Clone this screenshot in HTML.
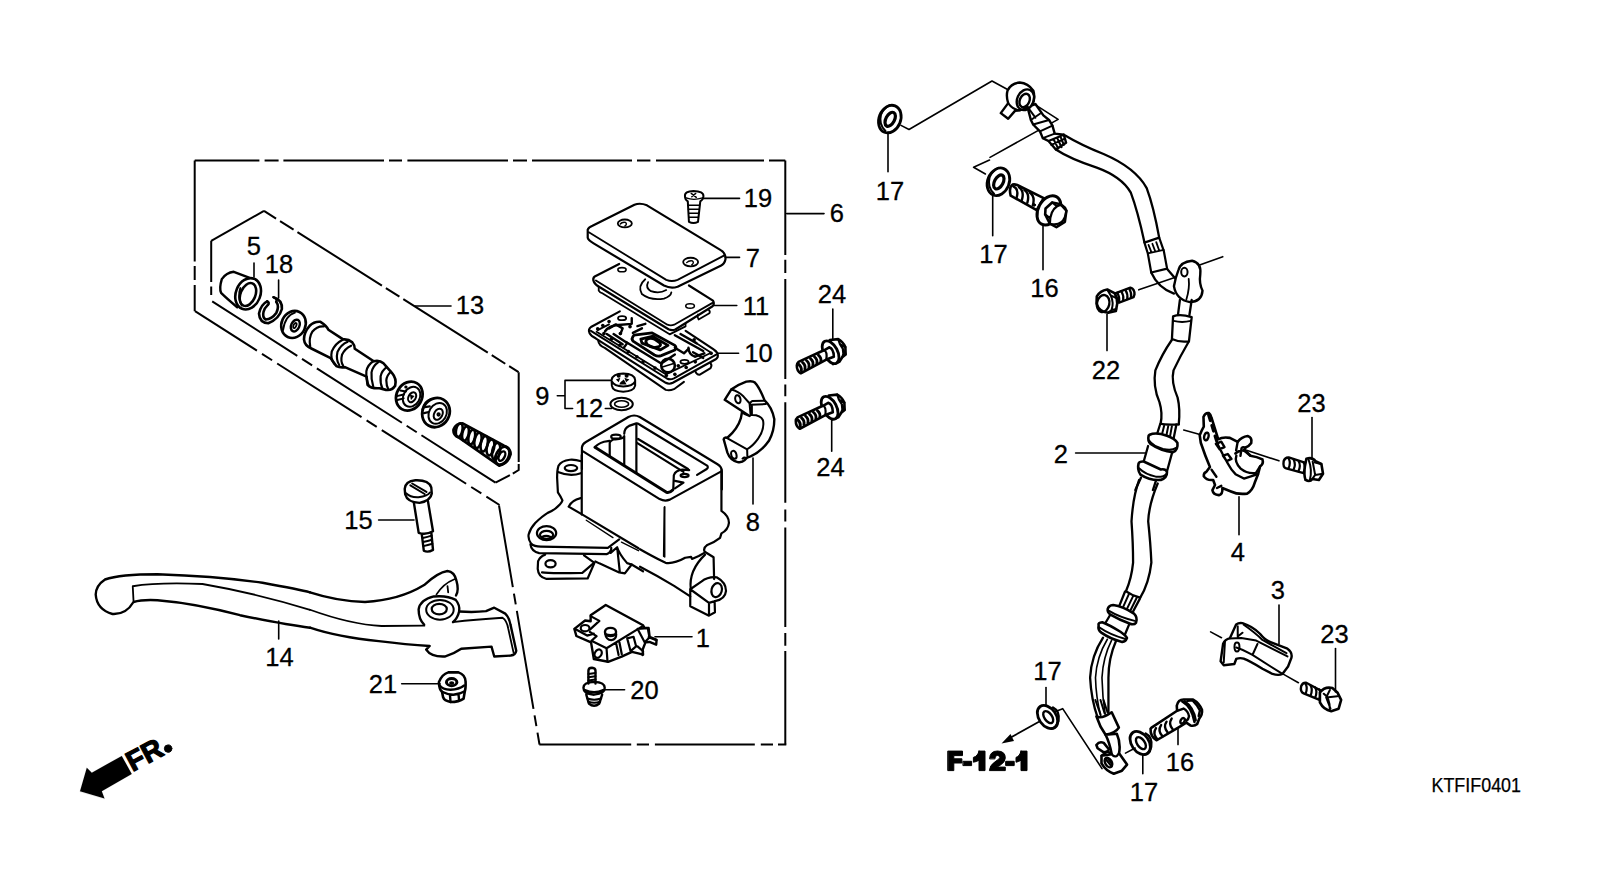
<!DOCTYPE html>
<html><head><meta charset="utf-8">
<style>
html,body{margin:0;padding:0;background:#fff;}
svg{display:block;}
text{font-family:"Liberation Sans",sans-serif;fill:#000;}
</style></head><body>
<svg width="1600" height="881" viewBox="0 0 1600 881">
<rect width="1600" height="881" fill="#fff"/>
<g id="boxes" stroke="#000" stroke-width="2" fill="none" stroke-dasharray="100 5 14 5" stroke-linecap="butt">
<path d="M194.7 160.4H259.4M264.6 160.4H278.6M283.4 160.4H384M389 160.4H402M407.4 160.4H508M513 160.4H527M532 160.4H632M637 160.4H650.4M656 160.4H764M769 160.4H785.3" stroke-dasharray="none"/>
<path d="M785.3 160.4V255M785.3 259.7V273M785.3 279V379M785.3 384.5V396.3M785.3 402.3V502.8M785.3 509.6V521.5M785.3 527.6V627M785.3 633V645.8M785.3 651V744.5" stroke-dasharray="none"/>
<path d="M539.3 744.5H631.2M636.8 744.5H649M654.9 744.5H754.8M760.8 744.5H773M778 744.5H786.3" stroke-dasharray="none"/>
<path d="M499 505.5L539.5 744.5" stroke-dasharray="99.5 6.5 11 6.5" stroke-dashoffset="16.7"/>
<path d="M195 311.2L499.5 505" stroke-dasharray="100 6 12 6" stroke-dashoffset="26.6"/>
<path d="M194.7 160.4V261.4M194.7 266V280M194.7 285V311.2" stroke-dasharray="none"/>
</g>
<g id="box13" stroke="#000" stroke-width="2" fill="none" stroke-dasharray="100 5 14 5">
<path d="M211.2 240.8L264 210.9" stroke-dasharray="none"/>
<path d="M264 210.9L518.6 372.2" stroke-dasharray="100 4.7 16 4.6" stroke-dashoffset="85.7"/>
<path d="M518.7 372.2V462M518.7 464V470L512.8 473.7M509.9 475.2L495.5 482.6" stroke-dasharray="none"/>
<path d="M212.2 301.4L495.5 482.6" stroke-dasharray="101 5.6 12 5.6" stroke-dashoffset="0"/>
<path d="M211.2 240.8V282M211.2 286.5V295" stroke-dasharray="none"/>
</g>
<g id="body" fill="none" stroke="#000" stroke-linejoin="round" stroke-linecap="round">
<!-- reservoir Z8.8 -->
<g transform="translate(570,410) scale(0.113475)" stroke-width="2.2" >
<path vector-effect="non-scaling-stroke" d="M105,520 L105,330 Q108,300 140,282 L515,62 Q565,35 615,62 L1300,478 Q1338,500 1338,540 L1338,700"/>
<path vector-effect="non-scaling-stroke" d="M115,365 L790,785 Q835,808 880,790 L1325,545"/>
<path vector-effect="non-scaling-stroke" stroke-width="3" d="M220,328 L850,725 Q880,732 905,705"/>
<path vector-effect="non-scaling-stroke" d="M220,328 Q240,300 300,280 L348,272"/>
<path vector-effect="non-scaling-stroke" d="M350,410 L350,290 Q360,262 400,258 Q470,255 478,230 L478,490"/>
<ellipse vector-effect="non-scaling-stroke" cx="405" cy="235" rx="42" ry="18"/>
<path vector-effect="non-scaling-stroke" d="M478,210 Q478,160 520,140 L585,118 Q600,115 612,128 L1208,490 Q1222,505 1205,520 L1120,572"/>
<path vector-effect="non-scaling-stroke" d="M585,125 L585,550"/>
<path vector-effect="non-scaling-stroke" d="M600,255 L1040,520 M590,290 L1000,545"/>
<path vector-effect="non-scaling-stroke" d="M910,700 L915,575 Q930,530 990,525 L1050,530"/>
<ellipse vector-effect="non-scaling-stroke" cx="1010" cy="577" rx="35" ry="14"/>
<path vector-effect="non-scaling-stroke" d="M925,625 L1000,640 L925,690"/>
</g>
<!-- body left Z2 -->
<g transform="translate(525,455) scale(0.113475)" stroke-width="2.2">
<path vector-effect="non-scaling-stroke" d="M495,55 Q440,38 395,42 Q320,50 295,95 Q283,130 283,200 L290,330 Q320,375 330,400 Q320,430 270,470 Q230,500 200,510 Q150,540 90,600 Q45,650 32,700 Q25,745 55,783"/>
<ellipse vector-effect="non-scaling-stroke" cx="405" cy="115" rx="55" ry="27"/>
<path vector-effect="non-scaling-stroke" d="M290,150 Q400,195 492,160"/>
<path vector-effect="non-scaling-stroke" d="M500,0 L500,525"/>
<path vector-effect="non-scaling-stroke" d="M385,455 Q410,400 490,380 M385,455 L510,528 L1000,822"/>
<path vector-effect="non-scaling-stroke" stroke-width="1.4" d="M540,575 L775,728 M850,768 L1000,843"/>
<path vector-effect="non-scaling-stroke" d="M1228,460 L1222,893" stroke-width="1.6"/>
<!-- flange (Z3 +573) -->
<g transform="translate(0,573)">
<path vector-effect="non-scaling-stroke" d="M55,210 Q80,232 140,234 L730,245 L830,170"/>
<path vector-effect="non-scaling-stroke" d="M48,215 Q55,275 125,292 L720,300 Q745,295 760,262 L760,245"/>
<ellipse vector-effect="non-scaling-stroke" cx="190" cy="115" rx="85" ry="62"/>
<ellipse vector-effect="non-scaling-stroke" cx="190" cy="130" rx="58" ry="35"/>
<path vector-effect="non-scaling-stroke" d="M150,150 Q185,130 225,150"/>
<path vector-effect="non-scaling-stroke" d="M755,290 L812,240 L835,455 M812,240 Q830,300 900,380 L940,392 L880,470 L830,462 L655,382 L620,365"/>
<path vector-effect="non-scaling-stroke" d="M520,312 L612,378 L552,515 L185,518 Q118,500 112,430 L115,365 Q130,322 178,305"/>
<path vector-effect="non-scaling-stroke" d="M150,462 Q200,472 505,466 L600,385"/>
<ellipse vector-effect="non-scaling-stroke" cx="225" cy="385" rx="45" ry="32"/>
<path vector-effect="non-scaling-stroke" d="M940,392 L1040,452"/>
</g>
</g>
<!-- pivot right Z5.87 -->
<g transform="translate(640,470) scale(0.17036)" stroke-width="2.2">
<path vector-effect="non-scaling-stroke" d="M478,0 L478,240 Q522,270 522,310 Q518,350 478,372 L470,398 Q440,422 395,440 Q368,460 380,480 L432,512 L435,640"/>
<path vector-effect="non-scaling-stroke" d="M0,465 Q60,500 150,545 Q200,552 265,515 L300,510 L305,522 L345,505 L380,485"/>
<path vector-effect="non-scaling-stroke" stroke-width="1.5" d="M145,215 L145,510"/>
<path vector-effect="non-scaling-stroke" d="M298,700 Q285,590 382,497"/>
<path vector-effect="non-scaling-stroke" d="M295,700 L295,800 L405,855 L440,835 L438,770 M295,700 L360,655 Q400,625 450,630 Q505,660 505,710 Q500,760 440,770 L405,780 L295,700 M405,780 L405,855"/>
<ellipse vector-effect="non-scaling-stroke" cx="450" cy="705" rx="30" ry="42" transform="rotate(15 450 705)"/>
<path vector-effect="non-scaling-stroke" d="M0,568 Q100,620 200,680 L295,742"/>
</g>
</g>
<g id="covers" fill="none" stroke="#000" stroke-linejoin="round" stroke-linecap="round">
<!-- cover 7 + screw 19 -->
<g transform="translate(580,190) scale(0.113475)">
<path vector-effect="non-scaling-stroke" stroke-width="2.2" d="M68,420 L68,350 Q75,330 110,315 L480,130 Q530,110 590,135 L1240,530 Q1285,555 1282,610 Q1275,650 1240,668 L860,852 Q800,872 740,842 L120,470 Q72,440 68,420"/>
<path vector-effect="non-scaling-stroke" stroke-width="1.8" d="M78,372 L760,792 Q810,812 860,792 L1268,578"/>
<ellipse vector-effect="non-scaling-stroke" stroke-width="1.8" cx="395" cy="295" rx="62" ry="35"/>
<path vector-effect="non-scaling-stroke" stroke-width="1.4" d="M355,300 Q370,280 400,285 Q420,300 395,318"/>
<ellipse vector-effect="non-scaling-stroke" stroke-width="1.8" cx="975" cy="635" rx="66" ry="38"/>
<path vector-effect="non-scaling-stroke" stroke-width="1.4" d="M940,640 Q960,620 990,625 Q1010,640 985,660"/>
<!-- screw 19 -->
<path vector-effect="non-scaling-stroke" stroke-width="2" d="M925,55 Q920,10 1000,8 Q1090,10 1088,55 Q1085,85 1060,100 L1040,280 Q1000,300 960,280 L950,100 Q925,85 925,55 Z"/>
<path vector-effect="non-scaling-stroke" stroke-width="1.4" d="M935,70 Q1000,95 1080,70 M980,30 L1025,65 M1020,30 L985,60 M955,135 L1050,135 M955,170 L1048,170 M958,205 L1045,205 M960,240 L1042,240"/>
</g>
<!-- plate 11 -->
<g transform="translate(580,260) scale(0.113475)">
<path vector-effect="non-scaling-stroke" stroke-width="2.2" d="M345,35 L130,145 Q108,162 122,192 Q135,220 175,240 L780,610 Q810,625 840,612 L1165,410 Q1190,390 1172,358 L960,225"/>
<path vector-effect="non-scaling-stroke" stroke-width="1.8" d="M140,180 L770,570 Q800,582 830,570 L1168,378"/>
<path vector-effect="non-scaling-stroke" stroke-width="1.8" d="M165,235 L165,270 Q175,290 200,295 L790,655 L930,585 L930,565 M1040,480 Q1030,505 1045,525 L1140,470 Q1150,450 1135,440"/>
<ellipse vector-effect="non-scaling-stroke" stroke-width="1.6" cx="370" cy="85" rx="36" ry="18"/>
<ellipse vector-effect="non-scaling-stroke" stroke-width="1.6" cx="970" cy="405" rx="38" ry="20"/>
<path vector-effect="non-scaling-stroke" stroke-width="1.8" d="M575,170 Q505,230 545,300 Q620,360 740,340 Q800,320 805,285 M600,195 Q575,245 625,275 Q700,300 760,265"/>
</g>
<!-- diaphragm 10 -->
<g transform="translate(575,300) scale(0.113475)">
<path vector-effect="non-scaling-stroke" stroke-width="2.2" d="M395,100 L145,235 Q112,258 128,292 Q140,318 185,340 L800,730 Q830,746 862,730 L1240,522 Q1268,505 1255,470 Q1245,450 1225,438 L975,272"/>
<path vector-effect="non-scaling-stroke" stroke-width="2" d="M140,272 L810,692 Q840,706 872,690 L1248,480"/>
<path vector-effect="non-scaling-stroke" stroke-width="2" d="M205,360 Q210,400 262,422 L800,792 Q832,802 872,786 L960,722 M1060,625 Q1070,660 1100,658 L1195,600 Q1210,575 1195,560"/>
<path vector-effect="non-scaling-stroke" stroke-width="1.8" d="M200,265 L300,215 M190,280 L800,655 L1200,465 L1060,375"/>
<path vector-effect="non-scaling-stroke" stroke-width="2.8" d="M520,310 L680,290 L880,400 Q900,420 880,440 L760,490 Q730,500 700,485 L515,365 Q490,340 520,310 Z M580,345 L680,320 L820,400 L750,440 L590,380 Z"/>
<path vector-effect="non-scaling-stroke" stroke-width="2.8" d="M630,350 Q660,330 700,345 L750,380 Q760,400 740,410 L700,420 Q670,420 640,395 Q615,370 630,350 Z"/>
<path vector-effect="non-scaling-stroke" stroke-width="2.4" d="M265,275 Q300,225 380,220 L500,210 L500,160 M280,300 L420,390 M450,370 L760,560 M510,290 L590,250 M550,230 L620,210 M880,310 L1130,450 M930,300 L1070,380 M1000,420 Q1000,480 1060,500 L1140,470"/>
<circle vector-effect="non-scaling-stroke" stroke-width="2.6" cx="820" cy="578" r="60"/>
<path vector-effect="non-scaling-stroke" stroke-width="2.4" d="M340,300 L460,380 L430,420 M300,250 L360,215 L420,250 L400,300 M880,420 L960,470 L1000,430 M760,560 L880,480 M1040,460 L1130,510"/>
<path vector-effect="non-scaling-stroke" stroke-width="1.5" d="M770,590 L870,560"/>
<ellipse vector-effect="non-scaling-stroke" stroke-width="1.8" cx="415" cy="160" rx="36" ry="18"/>
<ellipse vector-effect="non-scaling-stroke" stroke-width="1.8" cx="965" cy="545" rx="36" ry="18"/>
<g fill="#000" stroke="none">
<circle cx="200" cy="255" r="16"/><circle cx="245" cy="225" r="16"/><circle cx="300" cy="190" r="16"/><circle cx="255" cy="295" r="16"/><circle cx="320" cy="345" r="16"/><circle cx="395" cy="400" r="16"/><circle cx="470" cy="455" r="16"/><circle cx="545" cy="500" r="16"/><circle cx="600" cy="545" r="16"/><circle cx="705" cy="600" r="16"/><circle cx="805" cy="665" r="16"/><circle cx="880" cy="655" r="16"/><circle cx="980" cy="595" r="16"/><circle cx="1060" cy="545" r="16"/><circle cx="1200" cy="470" r="16"/><circle cx="1050" cy="350" r="16"/><circle cx="400" cy="295" r="16"/><circle cx="485" cy="235" r="16"/><circle cx="910" cy="580" r="16"/>
</g>
<!-- part 9 -->
<path vector-effect="non-scaling-stroke" stroke-width="2" d="M322,705 Q330,650 425,648 Q525,650 530,705 L530,755 Q520,805 425,808 Q330,805 325,755 Z M325,718 Q345,760 425,762 Q510,760 530,718"/>
<g fill="#000" stroke="none"><path d="M360,700 L400,685 L385,725Z M435,685 L480,700 L450,725Z M400,725 L430,700 L455,745 L390,745Z"/><circle cx="385" cy="668" r="18"/><circle cx="455" cy="668" r="18"/></g>
</g>
<!-- part 12 o-ring -->
<ellipse cx="621.6" cy="404" rx="11.2" ry="6.3" stroke-width="2"/>
<ellipse cx="621.6" cy="404" rx="7" ry="3.3" stroke-width="1.6"/>
</g>
<g id="holder8" fill="none" stroke="#000" stroke-linejoin="round" stroke-linecap="round">
<g transform="translate(715,375) scale(0.10786)">
<path vector-effect="non-scaling-stroke" stroke-width="2.4" d="M90,230 L150,135 Q210,90 290,62 Q345,50 370,70 Q410,110 460,235 Q530,300 550,410 Q550,520 500,610 Q430,710 330,755 Q290,765 275,790 Q250,815 210,808 Q140,790 115,720 L80,595 Q85,575 115,582 Q210,500 240,400 L250,345 Q280,365 320,380 L90,230 Z"/>
<path vector-effect="non-scaling-stroke" stroke-width="2" d="M150,135 Q215,150 265,200 L320,262 L330,372 M320,262 L345,240 L460,238 M330,275 L470,270 M342,280 L342,362 M335,372 Q420,368 445,420 Q462,500 400,590 Q350,660 295,690 M112,585 L298,690 L300,752 M255,775 Q270,760 290,770"/>
<ellipse vector-effect="non-scaling-stroke" stroke-width="2" cx="212" cy="225" rx="24" ry="38" transform="rotate(-15 212 225)"/>
<ellipse vector-effect="non-scaling-stroke" stroke-width="2" cx="175" cy="740" rx="24" ry="38" transform="rotate(-15 175 740)"/>
</g>
</g>
<g id="bolts24" fill="none" stroke="#000" stroke-linejoin="round" stroke-linecap="round">
<g transform="translate(790,330) scale(0.05677)">
<path vector-effect="non-scaling-stroke" fill="#fff" stroke-width="2.6" d="M700,175 L850,160 Q930,200 975,300 L980,430 L920,480 L870,560 L760,600 Z"/>
<path vector-effect="non-scaling-stroke" stroke-width="2.2" d="M850,160 L880,250 L930,330 L940,420 L920,480 M880,250 L975,300 M930,330 L980,430"/>
<ellipse vector-effect="non-scaling-stroke" fill="#fff" stroke-width="2.8" cx="715" cy="392" rx="122" ry="218" transform="rotate(-28 715 392)"/>
<path vector-effect="non-scaling-stroke" fill="#fff" stroke-width="2.6" d="M120,625 Q118,720 190,762 L640,520 L772,470 Q768,330 690,305 L600,358 L548,378 L150,562 Q118,590 120,625 Z"/>
<path vector-effect="non-scaling-stroke" stroke-width="2.2" d="M600,358 Q660,380 640,520"/>
<path vector-effect="non-scaling-stroke" stroke-width="2.8" d="M150,600 Q210,650 200,720 M220,570 Q280,620 262,690 M290,537 Q350,587 332,657 M360,505 Q420,555 402,625 M430,472 Q490,522 472,592 M500,442 Q560,492 542,558"/>
</g>
<g transform="translate(-1,55.5)"><g transform="translate(790,330) scale(0.05677)">
<path vector-effect="non-scaling-stroke" fill="#fff" stroke-width="2.6" d="M700,175 L850,160 Q930,200 975,300 L980,430 L920,480 L870,560 L760,600 Z"/>
<path vector-effect="non-scaling-stroke" stroke-width="2.2" d="M850,160 L880,250 L930,330 L940,420 L920,480 M880,250 L975,300 M930,330 L980,430"/>
<ellipse vector-effect="non-scaling-stroke" fill="#fff" stroke-width="2.8" cx="715" cy="392" rx="122" ry="218" transform="rotate(-28 715 392)"/>
<path vector-effect="non-scaling-stroke" fill="#fff" stroke-width="2.6" d="M120,625 Q118,720 190,762 L640,520 L772,470 Q768,330 690,305 L600,358 L548,378 L150,562 Q118,590 120,625 Z"/>
<path vector-effect="non-scaling-stroke" stroke-width="2.2" d="M600,358 Q660,380 640,520"/>
<path vector-effect="non-scaling-stroke" stroke-width="2.8" d="M150,600 Q210,650 200,720 M220,570 Q280,620 262,690 M290,537 Q350,587 332,657 M360,505 Q420,555 402,625 M430,472 Q490,522 472,592 M500,442 Q560,492 542,558"/>
</g></g>
</g>
<g id="lever14" fill="none" stroke="#000" stroke-linejoin="round" stroke-linecap="round">
<g transform="translate(90,560) scale(0.15)">
<path vector-effect="non-scaling-stroke" stroke-width="2.4" d="M1466.7,215.3 Q1400,198 1150,152 Q850,108 450,95 Q200,95 100,130 Q40,170 38,230 Q45,330 150,360 Q240,365 290,280 Q350,262 450,268 Q700,288 1000,368 Q1300,430 1466.7,451.3"/>
<path vector-effect="non-scaling-stroke" stroke-width="1.8" d="M285,175 Q450,148 750,160 Q1100,220 1466.7,332 M285,175 L290,272"/>
</g>
<g transform="translate(310,560) scale(0.1375)">
<path vector-effect="non-scaling-stroke" stroke-width="2.4" d="M0,235 Q200,300 400,305 Q650,292 830,182 Q930,90 1000,80 Q1050,85 1065,150 Q1085,220 1062,258"/>
<path vector-effect="non-scaling-stroke" stroke-width="1.8" d="M920,250 Q970,172 1050,140 M1000,190 L1005,235"/>
<path vector-effect="non-scaling-stroke" stroke-width="2.4" d="M830,470 Q790,430 790,360 Q800,290 900,265 Q1000,256 1060,290 Q1092,330 1085,372 Q1075,420 1040,452"/>
<ellipse vector-effect="non-scaling-stroke" stroke-width="2" cx="945" cy="362" rx="100" ry="72"/>
<ellipse vector-effect="non-scaling-stroke" stroke-width="2.2" cx="940" cy="357" rx="55" ry="38"/>
<path vector-effect="non-scaling-stroke" stroke-width="1.8" d="M0,362 Q300,470 520,480 L832,478"/>
<path vector-effect="non-scaling-stroke" stroke-width="2.4" d="M1085,375 Q1200,382 1280,372 L1340,347 L1420,390 Q1450,420 1458,470 L1500,660 Q1495,690 1460,695 L1340,702 L1320,630 L1100,645 Q1050,680 980,702 Q880,706 845,652 L870,625 Q700,615 500,590 Q200,560 0,492"/>
<path vector-effect="non-scaling-stroke" stroke-width="1.8" d="M1040,452 Q1200,432 1400,420 Q1432,440 1442,500 L1480,672"/>
</g>
</g>
<g id="smallparts" fill="none" stroke="#000" stroke-linejoin="round" stroke-linecap="round">
<!-- 15 pin -->
<g transform="translate(395,470) scale(0.10217)">
<path vector-effect="non-scaling-stroke" stroke-width="2.4" d="M95,185 Q100,110 200,100 Q330,95 355,170 L360,230 Q350,300 240,322 Q120,315 100,240 Z"/>
<path vector-effect="non-scaling-stroke" stroke-width="2" d="M108,228 Q150,270 230,266 Q320,256 342,220 M150,150 L290,235 M168,132 L308,215"/>
<path vector-effect="non-scaling-stroke" stroke-width="2.4" d="M185,322 L232,615 Q300,640 372,600 L322,302 M262,628 L282,790 Q320,812 372,782 L356,618"/>
<path vector-effect="non-scaling-stroke" stroke-width="2" d="M272,665 Q320,655 358,642 M275,705 Q320,695 362,682 M278,745 Q320,735 366,722"/>
</g>
<!-- 21 nut -->
<g transform="translate(425,660) scale(0.056763)">
<path vector-effect="non-scaling-stroke" stroke-width="2.6" d="M245,390 Q250,520 300,560 L320,660 Q340,720 450,740 Q600,740 680,680 L700,560 Q720,500 715,380 Q710,260 590,218 L410,218 Q300,250 245,390 Z"/>
<path vector-effect="non-scaling-stroke" stroke-width="2.4" d="M255,440 Q300,520 450,525 Q600,520 690,450 M300,560 Q400,612 500,612 Q620,600 700,550 M440,620 L450,740 M590,600 L600,700"/>
<ellipse vector-effect="non-scaling-stroke" stroke-width="3" cx="470" cy="390" rx="92" ry="62"/>
<ellipse vector-effect="non-scaling-stroke" stroke-width="2" cx="470" cy="405" rx="28" ry="12"/>
</g>
<!-- switch 1 + screw 20 -->
<g transform="translate(570,605) scale(0.079435)">
<path vector-effect="non-scaling-stroke" fill="#fff" stroke-width="2.4" d="M260,130 L450,0 L920,255 L935,285 L990,290 L1002,400 L1090,440 L1085,500 L1000,465 L950,470 L915,560 L920,625 L860,610 L780,590 L650,650 L480,715 L300,680 L265,470 L80,390 L55,300 L190,195 L260,205 Z"/>
<path vector-effect="non-scaling-stroke" stroke-width="2.2" d="M270,450 L460,545 L905,272 M60,300 L215,385 L300,360 M260,140 L370,200 L250,310 M250,340 L335,392 L270,450 M460,545 L472,712 M580,480 L612,630 M622,470 L652,620 M720,420 L800,400 L832,520 L762,580 Z M850,300 L980,292 L1000,410 L940,470 Z M850,520 L920,582 L912,630 M990,405 L1088,442"/>
<ellipse vector-effect="non-scaling-stroke" stroke-width="2.2" cx="190" cy="292" rx="55" ry="40"/>
<ellipse vector-effect="non-scaling-stroke" stroke-width="2.2" cx="355" cy="612" rx="42" ry="55" transform="rotate(30 355 612)"/>
<ellipse vector-effect="non-scaling-stroke" stroke-width="2.4" cx="510" cy="340" rx="70" ry="52"/>
<path vector-effect="non-scaling-stroke" stroke-width="2.2" d="M442,360 Q455,440 520,442 Q585,432 582,365 M450,370 Q510,390 575,370"/>
</g>
<g transform="translate(565,590) scale(0.14184)">
<!-- screw 20 -->
<path vector-effect="non-scaling-stroke" stroke-width="2.4" d="M165,660 L165,570 Q165,548 190,548 Q215,550 215,570 L215,660"/>
<path vector-effect="non-scaling-stroke" stroke-width="2" d="M165,592 L215,585 M165,615 L215,608 M165,638 L215,631"/>
<path vector-effect="non-scaling-stroke" stroke-width="2.4" d="M130,690 Q130,650 205,648 Q280,650 280,690 Q282,730 205,738 Q130,735 130,690 Z M140,705 Q205,735 270,705 M150,738 L168,800 Q205,832 242,800 L262,738"/>
<path vector-effect="non-scaling-stroke" stroke-width="2" d="M158,765 Q205,782 255,765 M165,788 Q205,802 248,788"/>
</g>
</g>
<g id="rightside" fill="none" stroke="#000" stroke-linejoin="round" stroke-linecap="round">

<!-- leader brackets -->
<path stroke-width="1.6" d="M901,125.4 L909,129.5 L992,81 L1008.5,90"/>
<g transform="translate(990,70) scale(0.11353)">
<path vector-effect="non-scaling-stroke" stroke-width="1.6" d="M0,770 L600,435 L390,300"/>
</g>
<path stroke-width="1.6" d="M989.5,160 L973.6,167.3 L985.4,174"/>
<!-- top banjo -->
<g transform="translate(990,70) scale(0.11353)">
<path vector-effect="non-scaling-stroke" fill="#fff" stroke-width="2.4" d="M95,380 L160,292 Q140,230 155,180 Q185,118 262,110 Q335,115 382,182 Q402,252 370,312 L400,300 L470,400 L520,440 L550,490 L570,560 L650,570 L670,640 L580,700 L515,625 L465,600 L440,540 L380,480 L360,440 L330,325 Q300,350 262,355 L220,360 L160,430 Z"/>
<ellipse vector-effect="non-scaling-stroke" stroke-width="2.4" cx="312" cy="262" rx="72" ry="95" transform="rotate(25 312 262)"/>
<ellipse vector-effect="non-scaling-stroke" stroke-width="2.4" cx="305" cy="268" rx="42" ry="62" transform="rotate(25 305 268)"/>
<path vector-effect="non-scaling-stroke" stroke-width="2" d="M160,292 Q200,350 262,355 M360,440 L440,385 M380,480 L520,440 M440,540 L550,490 M465,600 L570,560 M330,325 L400,420 M515,625 L650,570 M540,660 L660,605 M560,610 L600,690 M590,595 L630,680 M620,585 L650,660"/>

</g>
<!-- hose upper -->
<g transform="translate(1040,120) scale(0.22701)">
<path vector-effect="non-scaling-stroke" stroke-width="2.3" d="M105,65 Q180,110 280,150 Q420,210 470,300 Q500,380 525,518 M70,130 Q130,170 250,210 Q360,250 400,320 Q430,400 460,538"/>
<path vector-effect="non-scaling-stroke" stroke-width="2.2" fill="#fff" d="M460,540 L525,518 L545,575 L560,655 L490,672 L475,588 Z"/>
<path vector-effect="non-scaling-stroke" stroke-width="1.8" d="M475,588 L545,572 M478,550 L492,585 M495,545 L508,580 M512,538 L525,575"/>
<!-- mid block -->
<path vector-effect="non-scaling-stroke" stroke-width="1.6" d="M435,748 L600,692 M700,640 L805,602"/>
<path vector-effect="non-scaling-stroke" stroke-width="2.3" d="M490,672 Q520,740 590,765 M560,656 L598,700"/>
<path vector-effect="non-scaling-stroke" stroke-width="2.4" fill="#fff" d="M610,660 Q620,625 670,620 Q712,630 706,680 Q700,720 716,752 Q712,802 660,802 Q600,792 590,732 Q598,690 610,660 Z"/>
<ellipse vector-effect="non-scaling-stroke" stroke-width="2" cx="636" cy="670" rx="14" ry="19"/>
<path vector-effect="non-scaling-stroke" stroke-width="1.8" d="M655,700 Q660,740 645,790"/>
<!-- bolt 22 (moved) -->
</g>
<!-- hose middle -->
<g transform="translate(1080,300) scale(0.22701)">
<path vector-effect="non-scaling-stroke" stroke-width="2.3" d="M440,0 L432,62 M492,0 L482,66"/>
<path vector-effect="non-scaling-stroke" stroke-width="2.3" fill="#fff" d="M410,72 Q440,60 492,75 L480,182 Q440,188 405,172 Z"/>
<path vector-effect="non-scaling-stroke" stroke-width="1.8" d="M412,92 Q450,102 488,92"/>
<path vector-effect="non-scaling-stroke" stroke-width="2.3" d="M405,175 Q360,240 332,310 Q320,380 350,450 Q365,500 355,545 M478,185 Q440,250 412,310 Q400,360 430,430 Q442,480 435,548"/>
</g>
<!-- hose lower mid -->
<g transform="translate(1060,480) scale(0.1589)">
<path vector-effect="non-scaling-stroke" stroke-width="2.3" d="M498,0 Q460,100 450,260 Q460,400 460,520 Q450,620 415,700 M615,22 Q560,150 555,260 Q570,400 575,520 Q560,650 505,740"/>
</g>
<!-- hose bottom -->
<g transform="translate(1020,600) scale(0.2157)">
<path vector-effect="non-scaling-stroke" stroke-width="2.3" d="M385,175 Q330,260 325,360 Q330,460 360,545 M445,190 Q410,270 410,360 Q410,440 410,520"/>
<path vector-effect="non-scaling-stroke" stroke-width="1.6" d="M405,182 Q355,265 350,360 Q352,450 375,540 M425,186 Q385,265 380,360 Q382,450 395,530"/>
</g>
<g transform="translate(1030,700) scale(0.10214)">
<path vector-effect="non-scaling-stroke" stroke-width="1.6" d="M250,112 L320,85 L705,672 M935,520 L1030,470"/>
<path vector-effect="non-scaling-stroke" stroke-width="2" d="M640,0 L690,140 M690,0 L730,130 M720,0 L760,125"/>
<path vector-effect="non-scaling-stroke" stroke-width="2.6" fill="#fff" d="M650,160 Q700,190 800,120 L870,270 Q840,320 740,340 L690,260 Z"/>
<path vector-effect="non-scaling-stroke" stroke-width="2.6" fill="#fff" d="M740,340 Q780,420 800,530 L700,545 L700,620 Q740,690 820,722 L900,692 L950,632 L872,522 Q890,420 850,330 Z"/>
<path vector-effect="non-scaling-stroke" stroke-width="2.2" d="M800,530 Q820,562 850,548 L872,522 M700,545 L760,502 L800,530"/>
<path vector-effect="non-scaling-stroke" stroke-width="2.6" fill="#fff" d="M650,440 Q680,400 722,420 L772,482 Q760,512 722,512 L662,472 Z"/>
<ellipse vector-effect="non-scaling-stroke" stroke-width="2.4" cx="768" cy="612" rx="32" ry="50" transform="rotate(-30 768 612)"/>
<path vector-effect="non-scaling-stroke" stroke-width="2" d="M745,585 L790,640 M760,570 L800,620"/>
</g>
<g>
<!-- grommet upper -->
<g transform="translate(1120,400) scale(0.10219)">
<path vector-effect="non-scaling-stroke" stroke-width="2.3" d="M397,232 Q450,245 574,239"/>
<path vector-effect="non-scaling-stroke" stroke-width="2.3" d="M392,240 L362,335 M552,240 L520,400"/>
<path vector-effect="non-scaling-stroke" stroke-width="2" d="M432,252 L402,372 M472,256 L446,386 M508,256 L482,396"/>
<path vector-effect="non-scaling-stroke" stroke-width="2.3" d="M275,450 L232,602 M512,508 L462,690 M205,760 L150,881 M352,790 L322,881"/>
<path vector-effect="non-scaling-stroke" stroke-width="2.6" fill="#fff" d="M280,350 Q268,400 300,430 Q400,500 520,510 Q570,490 562,420 Q540,380 460,350 Q350,310 290,340 Z"/>
<path vector-effect="non-scaling-stroke" stroke-width="2" d="M285,398 Q320,450 420,480 Q510,500 550,468"/>
<path vector-effect="non-scaling-stroke" stroke-width="2.6" fill="#fff" d="M182,620 Q166,680 200,730 Q300,792 400,782 Q462,760 460,702 Q445,672 400,680 L232,602 Q190,600 182,620 Z"/>
<path vector-effect="non-scaling-stroke" stroke-width="2" d="M186,668 Q250,730 350,750 Q430,756 456,722"/>
</g>
<!-- grommet lower -->
<g transform="translate(1085,580) scale(0.090785)">
<path vector-effect="non-scaling-stroke" stroke-width="2.3" d="M450,123 Q520,175 608,194"/>
<path vector-effect="non-scaling-stroke" stroke-width="2.3" d="M440,130 L368,310 M605,205 L512,380"/>
<path vector-effect="non-scaling-stroke" stroke-width="2" d="M482,158 L400,342 M530,178 L442,360 M570,195 L482,372"/>
<path vector-effect="non-scaling-stroke" stroke-width="2.3" d="M280,380 L215,490 M490,480 L440,600"/>
<path vector-effect="non-scaling-stroke" stroke-width="2.6" fill="#fff" d="M250,320 Q260,280 310,275 Q420,290 540,370 Q582,410 562,470 Q540,500 490,480 Q380,440 280,382 Q245,355 250,320 Z"/>
<path vector-effect="non-scaling-stroke" stroke-width="2" d="M265,340 Q380,410 548,450"/>
<path vector-effect="non-scaling-stroke" stroke-width="2.6" fill="#fff" d="M150,500 Q140,470 190,465 Q260,490 390,570 Q450,610 462,640 Q442,690 400,680 Q280,650 180,580 Q140,550 150,500 Z"/>
<path vector-effect="non-scaling-stroke" stroke-width="2" d="M156,520 Q270,600 446,650"/>
</g>
<!-- F-12-1 arrow -->
<path stroke-width="1.8" d="M1038.5,722 L1008,739"/>
<path fill="#000" stroke="none" d="M1001.5,743.5 L1010.5,734 L1014,741 Z"/>
<!-- washers -->
<g transform="translate(890,118.6)">
<ellipse cx="0" cy="0.5" rx="10.8" ry="14.2" transform="rotate(22)" stroke-width="2.8"/><path d="M-4.5,12.5 Q-11.5,6 -9,-4 Q-6,-11 0,-13.5" stroke-width="2"/>
<ellipse cx="0.5" cy="0.5" rx="4.3" ry="7.6" transform="rotate(28)" stroke-width="3.2"/>
</g>
<g transform="translate(998.6,181.3)">
<ellipse cx="0" cy="0.5" rx="10.8" ry="14.2" transform="rotate(22)" stroke-width="2.8"/><path d="M-4.5,12.5 Q-11.5,6 -9,-4 Q-6,-11 0,-13.5" stroke-width="2"/>
<ellipse cx="0.5" cy="0.5" rx="4.3" ry="7.6" transform="rotate(28)" stroke-width="3.2"/>
</g>
<g transform="translate(1047.5,717)">
<ellipse cx="0" cy="0" rx="8.6" ry="12.8" transform="rotate(-35)" stroke-width="2.8"/>
<path d="M5.5,-9.5 Q12.5,-6 11,4 Q9,11 4,11.5" stroke-width="2.4"/>
<ellipse cx="0.5" cy="0.5" rx="3.8" ry="6.8" transform="rotate(-35)" stroke-width="2.4"/>
</g>
<g transform="translate(1140.2,743)">
<ellipse cx="0" cy="0" rx="8.6" ry="12.8" transform="rotate(-35)" stroke-width="2.8"/>
<path d="M5.5,-9.5 Q12.5,-6 11,4 Q9,11 4,11.5" stroke-width="2.4"/>
<ellipse cx="0.5" cy="0.5" rx="3.8" ry="6.8" transform="rotate(-35)" stroke-width="2.4"/>
</g>
<!-- bolt 16 top -->
<g id="bolt16" transform="translate(970,160) scale(0.09077)">
<path vector-effect="non-scaling-stroke" fill="#fff" stroke-width="2.6" d="M470,270 Q425,300 448,392 L735,552 L812,420 L520,275 Q492,265 470,270 Z"/>
<path vector-effect="non-scaling-stroke" stroke-width="2.4" d="M478,290 Q540,320 515,410 M540,300 Q600,340 572,440 M600,330 Q660,370 632,470 M660,360 Q720,400 692,500"/>
<circle vector-effect="non-scaling-stroke" fill="#000" cx="708" cy="495" r="14"/>
<ellipse vector-effect="non-scaling-stroke" fill="#fff" stroke-width="3" cx="870" cy="555" rx="118" ry="172" transform="rotate(28 870 555)"/>
<path vector-effect="non-scaling-stroke" fill="#fff" stroke-width="2.6" d="M832,535 L905,468 L1000,488 L1062,558 L1045,682 L952,740 L880,702 L828,600 Z"/>
<path vector-effect="non-scaling-stroke" stroke-width="2.2" d="M880,702 Q1040,740 1062,558 Q1030,470 960,510 Q880,560 880,702 M905,468 L960,510 M828,600 L880,640"/>
</g>
<!-- bolt 16 bottom -->
<g transform="translate(1140,690) scale(0.068085)">
<path vector-effect="non-scaling-stroke" fill="#fff" stroke-width="2.6" d="M540,230 Q560,140 640,140 L780,140 Q870,190 910,290 Q920,360 870,420 L840,500 Q800,535 740,520 L680,480 L580,540 L245,738 Q150,690 155,570 L170,552 L545,305 Z"/>
<path vector-effect="non-scaling-stroke" stroke-width="2.4" d="M235,560 Q180,640 255,725 M310,515 Q255,595 330,680 M390,465 Q335,545 410,630 M465,420 Q410,500 485,585 M545,305 L640,272 Q705,305 720,385 Q712,432 682,452 M620,170 Q760,250 800,470 M655,165 Q790,255 818,445 M700,160 L770,150 L840,232 L880,300 L862,382"/>
<ellipse vector-effect="non-scaling-stroke" stroke-width="2.4" cx="625" cy="452" rx="28" ry="44" transform="rotate(30 625 452)"/>
</g>
</g>
<g id="clamps" fill="none" stroke="#000" stroke-linejoin="round" stroke-linecap="round">
<g transform="translate(1180,400) scale(0.1249)">
<path vector-effect="non-scaling-stroke" stroke-width="1.6" d="M30,240 L160,276"/>
</g>
<g transform="translate(1190,405) scale(0.10782)">
<path vector-effect="non-scaling-stroke" fill="#fff" stroke-width="2.6" d="M125,110 Q140,70 175,75 Q195,90 200,120 L262,318 Q300,295 370,305 L442,342 Q480,295 535,288 Q578,300 568,352 Q545,385 515,395 L500,420 L560,470 Q620,478 672,505 Q685,548 650,570 L632,640 L600,722 Q580,792 530,822 Q440,832 380,802 L300,770 Q305,828 268,836 Q215,830 208,790 L232,742 L215,695 Q155,702 128,662 Q125,630 150,622 L185,575 Q140,470 100,350 L90,280 Q110,230 128,200 Z"/>
<path vector-effect="non-scaling-stroke" stroke-width="3" stroke-dasharray="6 5" d="M172,92 L252,352"/>
<ellipse vector-effect="non-scaling-stroke" stroke-width="2.4" cx="152" cy="292" rx="20" ry="36" transform="rotate(15 152 292)"/>
<path vector-effect="non-scaling-stroke" stroke-width="2.4" d="M250,352 L300,450 L352,545 Q382,602 422,642 L500,682 L630,642 M420,450 Q470,408 522,430 L560,470 M430,470 Q410,530 470,590 Q530,640 612,630 L650,570 M442,342 L428,420 M515,395 Q490,385 478,400 L468,472 M240,360 L290,340 L320,390 L275,410 Z M305,470 L350,455 L385,500 L340,520 Z M200,600 L245,665 M290,750 L250,770"/>
</g>
<g transform="translate(1180,400) scale(0.1249)"><path vector-effect="non-scaling-stroke" stroke-width="1.6" d="M520,398 L792,487"/></g>
<g transform="translate(1180,400) scale(0.1249)">
<!-- bolt 23 -->
<path vector-effect="non-scaling-stroke" fill="#fff" stroke-width="2.4" d="M830,490 Q822,540 850,548 L1012,592 L1030,512 L870,460 Q840,458 830,490 Z"/>
<path vector-effect="non-scaling-stroke" stroke-width="2.2" d="M870,468 Q890,505 868,548 M910,478 Q930,515 908,560 M950,490 Q970,525 948,570 M990,500 Q1010,540 988,582"/>
<path vector-effect="non-scaling-stroke" fill="#fff" stroke-width="2.6" d="M1012,470 Q1060,455 1085,490 L1132,512 L1145,590 L1112,640 L1060,632 Q1040,660 1005,640 Q990,600 1000,530 Z"/>
<path vector-effect="non-scaling-stroke" stroke-width="2" d="M1030,480 Q1060,560 1040,640 M1062,492 L1082,600 L1060,632 M1082,600 L1145,590 M1080,500 L1132,512"/>
</g>
<g transform="translate(1200,610) scale(0.1249)">
<path vector-effect="non-scaling-stroke" stroke-width="1.6" d="M85,175 L172,222 M670,515 L788,582"/>
<path vector-effect="non-scaling-stroke" fill="#fff" stroke-width="2.4" d="M165,410 L185,270 Q200,235 240,225 L290,115 Q310,100 340,105 Q420,130 480,190 Q520,240 560,255 L700,310 Q742,340 732,382 L705,452 L660,512 Q630,527 580,512 L500,470 Q400,410 350,390 Q320,380 290,392 L275,432 L190,442 Z"/>
<path vector-effect="non-scaling-stroke" stroke-width="2" d="M240,228 L330,225 L450,245 L700,372 M350,118 Q440,180 500,240 L692,346 M302,130 L302,212 L340,182 M200,248 L190,420 M290,300 Q330,310 420,360 L660,512 M420,360 L460,272"/>
<ellipse vector-effect="non-scaling-stroke" stroke-width="2" cx="296" cy="296" rx="20" ry="36"/>
<!-- bolt 23 b -->
<path vector-effect="non-scaling-stroke" fill="#fff" stroke-width="2.4" d="M810,610 Q800,652 830,668 L962,722 L978,650 L850,582 Q820,580 810,610 Z"/>
<path vector-effect="non-scaling-stroke" stroke-width="2.2" d="M845,590 Q865,625 845,670 M885,605 Q905,640 885,685 M922,620 Q942,655 922,700 M955,635 Q975,670 955,712"/>
<path vector-effect="non-scaling-stroke" fill="#fff" stroke-width="2.6" d="M960,660 Q1000,610 1060,625 L1100,660 L1130,720 L1110,790 L1050,810 Q990,800 960,740 Z"/>
<path vector-effect="non-scaling-stroke" stroke-width="2" d="M990,670 Q1040,700 1040,800 M1040,640 L1010,700 L1045,790 M1010,700 L1100,690"/>
</g>
</g>
<g id="piston13" fill="none" stroke="#000" stroke-linejoin="round" stroke-linecap="round">
<g transform="translate(210,270) scale(0.09077)">
<path vector-effect="non-scaling-stroke" stroke-width="2.4" d="M300,410 Q180,310 122,252 Q100,200 130,100 Q180,30 262,20 L430,85"/>
<ellipse vector-effect="non-scaling-stroke" stroke-width="2.6" cx="420" cy="262" rx="135" ry="178" transform="rotate(22 420 262)"/>
<ellipse vector-effect="non-scaling-stroke" stroke-width="2.6" cx="418" cy="270" rx="82" ry="132" transform="rotate(22 418 270)"/>
<path vector-effect="non-scaling-stroke" stroke-width="2" d="M350,390 Q300,300 335,200"/>
<path vector-effect="non-scaling-stroke" stroke-width="2.6" d="M700,300 Q800,330 792,430 Q762,540 642,586 Q545,580 540,480 Q560,380 630,345 M730,350 Q765,400 732,470 Q682,540 612,546 Q575,520 590,460 Q600,420 640,382"/>
<path vector-effect="non-scaling-stroke" stroke-width="2.4" d="M630,345 Q660,360 640,382 M700,300 Q745,320 730,350"/>
<ellipse vector-effect="non-scaling-stroke" stroke-width="2.6" cx="920" cy="600" rx="132" ry="152" transform="rotate(25 920 600)"/>
<path vector-effect="non-scaling-stroke" stroke-width="2" d="M805,660 Q830,500 935,470"/>
<ellipse vector-effect="non-scaling-stroke" stroke-width="2.4" cx="940" cy="612" rx="45" ry="68" transform="rotate(25 940 612)"/>
<ellipse vector-effect="non-scaling-stroke" stroke-width="1.8" cx="935" cy="612" rx="15" ry="30" transform="rotate(25 935 612)"/>
</g>
<g transform="translate(300,315) scale(0.056773)">
<path vector-effect="non-scaling-stroke" fill="#fff" stroke-width="2.6" d="M360,120 Q470,190 500,260 L760,430 Q850,420 920,480 Q970,540 965,595 L1299,815 Q1400,790 1470,850 L1529,919 L1619,1018 Q1709,1121 1676,1247 Q1619,1337 1515,1319 L1400,1290 Q1250,1300 1190,1230 L1173,1085 L791,919 Q700,930 640,900 L540,760 L200,590 Q80,540 70,430 Q70,300 170,190 Q250,110 360,120 Z"/>
<path vector-effect="non-scaling-stroke" stroke-width="2.2" d="M420,200 Q300,190 220,290 Q150,400 180,560 M745,440 Q620,500 560,640 Q530,780 610,870 M840,470 Q720,520 660,650 Q630,780 690,880 M900,540 Q790,590 740,700 Q710,820 760,890 M1295,811 Q1190,880 1169,991 Q1160,1130 1210,1240 M1380,830 Q1280,900 1260,1010 Q1250,1130 1290,1260 M1529,919 Q1440,980 1420,1080 Q1410,1200 1450,1290 M1600,1000 Q1530,1060 1520,1150 Q1520,1250 1560,1320"/>
</g>
<g transform="translate(390,370) scale(0.11353)">
<ellipse vector-effect="non-scaling-stroke" stroke-width="2.8" cx="170" cy="230" rx="112" ry="132" transform="rotate(30 170 230)"/>
<ellipse vector-effect="non-scaling-stroke" stroke-width="2" cx="190" cy="236" rx="72" ry="92" transform="rotate(30 190 236)"/>
<ellipse vector-effect="non-scaling-stroke" stroke-width="2" cx="195" cy="240" rx="32" ry="46" transform="rotate(30 195 240)"/>
<path vector-effect="non-scaling-stroke" stroke-width="2" d="M60,230 L120,215 M65,265 L120,250 M90,180 L140,190"/>
<circle fill="#000" cx="140" cy="150" r="14"/><path fill="#000" d="M175,215 L215,230 L185,265Z"/>
<ellipse vector-effect="non-scaling-stroke" stroke-width="2.8" cx="405" cy="375" rx="118" ry="132" transform="rotate(30 405 375)"/>
<path vector-effect="non-scaling-stroke" stroke-width="2.2" d="M285,350 Q300,275 362,255 M290,330 L350,320 M300,380 L340,370"/>
<ellipse vector-effect="non-scaling-stroke" stroke-width="2" cx="420" cy="382" rx="76" ry="96" transform="rotate(30 420 382)"/>
<ellipse vector-effect="non-scaling-stroke" stroke-width="2" cx="425" cy="390" rx="36" ry="52" transform="rotate(30 425 390)"/>
<circle vector-effect="non-scaling-stroke" stroke-width="2" cx="428" cy="392" r="10"/>
<!-- spring -->
<path vector-effect="non-scaling-stroke" stroke-width="2.8" d="M560,525 Q580,470 640,470 L1000,665 Q1062,690 1062,742 Q1042,822 962,842 L602,592 Q555,572 560,525 Z"/>
<g stroke-width="2.6">
<ellipse vector-effect="non-scaling-stroke" cx="610" cy="530" rx="28" ry="62" transform="rotate(12 610 530)"/>
<ellipse vector-effect="non-scaling-stroke" cx="665" cy="560" rx="28" ry="64" transform="rotate(12 665 560)"/>
<ellipse vector-effect="non-scaling-stroke" cx="720" cy="590" rx="28" ry="66" transform="rotate(12 720 590)"/>
<ellipse vector-effect="non-scaling-stroke" cx="775" cy="620" rx="30" ry="68" transform="rotate(12 775 620)"/>
<ellipse vector-effect="non-scaling-stroke" cx="830" cy="650" rx="30" ry="70" transform="rotate(12 830 650)"/>
<ellipse vector-effect="non-scaling-stroke" cx="885" cy="682" rx="32" ry="72" transform="rotate(12 885 682)"/>
<ellipse vector-effect="non-scaling-stroke" cx="935" cy="715" rx="34" ry="74" transform="rotate(12 935 715)"/>
</g>
<ellipse vector-effect="non-scaling-stroke" stroke-width="2.8" cx="990" cy="755" rx="55" ry="85" transform="rotate(28 990 755)"/>
<ellipse vector-effect="non-scaling-stroke" stroke-width="2.4" cx="985" cy="758" rx="25" ry="45" transform="rotate(28 985 758)"/>
</g>
</g>
<g id="fr">
<path fill="#000" transform="translate(70,730) scale(0.09083)" d="M110,675 L185,415 L240,470 L570,285 L680,485 L350,675 L380,755 Z"/>
<text transform="translate(132.5,772) rotate(-28)" font-size="28" font-weight="bold" stroke="#000" stroke-width="1.2">FR</text><circle cx="168.1" cy="748.6" r="3.7" fill="#000"/>
</g>
<g id="bolt22" fill="none" stroke="#000" stroke-linejoin="round" stroke-linecap="round" transform="translate(1090,240) scale(0.090793)">
<path vector-effect="non-scaling-stroke" fill="#fff" stroke-width="2.4" d="M270,590 L445,525 Q492,540 490,600 L480,630 L320,690 Z"/>
<path vector-effect="non-scaling-stroke" stroke-width="2.2" d="M300,580 Q330,630 320,680 M345,565 Q375,615 365,665 M390,550 Q420,600 410,650 M432,535 Q462,585 452,635"/>
<path vector-effect="non-scaling-stroke" fill="#fff" stroke-width="2.6" d="M75,620 Q110,560 190,545 L270,585 Q305,640 300,700 L285,782 L200,802 Q100,792 72,700 Z"/>
<ellipse vector-effect="non-scaling-stroke" stroke-width="2.4" cx="145" cy="700" rx="68" ry="95" transform="rotate(12 145 700)"/>
<path vector-effect="non-scaling-stroke" stroke-width="2" d="M190,548 L228,610 Q265,690 238,770 L200,800 M228,610 L290,640 M238,770 L290,760"/>
</g>
<g id="labels" font-size="25.5" transform="translate(-0.3,1)" stroke="#000" stroke-width="0.3">
<text x="247" y="254">5</text>
<text x="265" y="272">18</text>
<text x="456" y="313.4">13</text>
<text x="744" y="206">19</text>
<text x="830" y="221">6</text>
<text x="746" y="266">7</text>
<text x="743" y="313.5">11</text>
<text x="744.5" y="361">10</text>
<text x="818" y="301.7">24</text>
<text x="816.5" y="475.3">24</text>
<text x="535.5" y="404">9</text>
<text x="575" y="415.6">12</text>
<text x="746" y="530">8</text>
<text x="344.5" y="527.7">15</text>
<text x="265.5" y="664.6">14</text>
<text x="369" y="691.7">21</text>
<text x="696" y="646">1</text>
<text x="630.5" y="698">20</text>
<text x="876" y="199">17</text>
<text x="979.5" y="261.6">17</text>
<text x="1030.5" y="295.7">16</text>
<text x="1092" y="377.6">22</text>
<text x="1297.5" y="410.7">23</text>
<text x="1054" y="461.6">2</text>
<text x="1231" y="560.4">4</text>
<text x="1271" y="597.5">3</text>
<text x="1320.5" y="641.6">23</text>
<text x="1033.5" y="679.4">17</text>
<text x="1130" y="800">17</text>
<text x="1166" y="770">16</text>
</g>
<path fill="#000" d="M948.1,751.1H962.5V755.6H953.8V758.8H961.9V763H953.8V770.6H948.1Z M963.3,761.3H971.6V765.6H963.3Z M979,751.1H985V770.6H979V760.2Q976.5,761.8 973.4,762.2V757.4Q977.8,756.2 979,751.1Z M989.6,758.5Q989.8,751 997.5,751Q1005.3,751.2 1005.3,757.8Q1005.3,762 1000.5,765L997,767.1H1005.3V770.6H989.4Q989.6,765.2 995,761.8Q999.8,758.8 999.8,757.6Q999.8,755.4 997.4,755.4Q995,755.4 994.9,758.5Z M1006,761.3H1014.2V765.6H1006Z M1021,751.1H1027V770.6H1021V760.2Q1018.6,761.8 1016,762.2V757.4Q1019.8,756.2 1021,751.1Z"/>
<text x="1431.5" y="792.3" font-size="19.5" textLength="89.5" lengthAdjust="spacingAndGlyphs" stroke="#000" stroke-width="0.25">KTFIF0401</text>
<g id="leaders" stroke="#000" stroke-width="1.6" fill="none">
<path d="M254 263V277"/>
<path d="M278.6 280V298"/>
<path d="M415 306H451"/>
<path d="M702.7 198.4H739.5"/>
<path d="M786.7 213.6H824"/>
<path d="M725.4 257.4H739.5"/>
<path d="M713 305.5H736.8"/>
<path d="M717.5 353.2H738.6"/>
<path d="M832.8 309V339"/>
<path d="M831.7 420V451.3"/>
<path d="M557.3 395.8H565M565 380.4V408.5M565 380.4H610.4M565 408.5H572.6"/>
<path d="M605.3 408.5H611.5"/>
<path d="M753 458V504"/>
<path d="M378.6 520H414"/>
<path d="M278.7 621V639"/>
<path d="M401.7 683.8H440"/>
<path d="M655 636.7H692"/>
<path d="M603 689.8H624.6"/>
<path d="M888 132V171.7"/>
<path d="M992.7 195V235.7"/>
<path d="M1043 224.8V269.8"/>
<path d="M1107 314.6V350.6"/>
<path d="M1312 417.6V458"/>
<path d="M1075.6 453H1145.4"/>
<path d="M1239 496.7V534.7"/>
<path d="M1279 605V644"/>
<path d="M1335.5 648.5V692"/>
<path d="M1046 687.5V705.5"/>
<path d="M1142.8 755V773.8"/>
<path d="M1178 728V744.6"/>
</g>
</svg>
</body></html>
